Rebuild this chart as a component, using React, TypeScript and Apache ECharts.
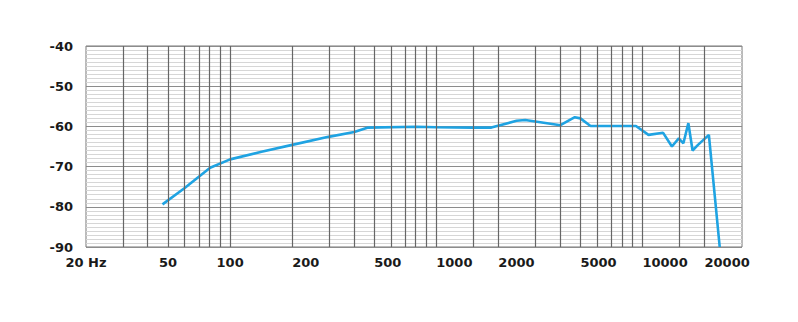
import React, { useEffect, useRef } from "react";
import * as echarts from "echarts";

// Frequency response data (Hz, dB)
const freqs = [47, 60, 80, 100, 142, 200, 300, 400, 467, 800, 1000, 1500, 1850, 2450, 2700, 4000, 4700, 5000, 5600, 9300, 10700, 12600, 13900, 15000, 15800, 16700, 17500, 18600, 21000, 23700];
const levels = [-79.4, -75.4, -70.3, -68.2, -66.3, -64.6, -62.6, -61.4, -60.3, -60.1, -60.2, -60.3, -60.3, -58.6, -58.4, -59.7, -57.7, -58.0, -59.9, -59.9, -62.1, -61.6, -65.0, -63.0, -64.2, -59.2, -66.0, -64.6, -62.1, -90];

// Vertical grid lines (Hz)
const gridFreqs = [30, 40, 50, 60, 70, 80, 90, 100, 200, 300, 400, 500, 600, 700, 800, 900, 1000, 1500, 2000, 3000, 4000, 5000, 6000, 7000, 8000, 9000, 10000, 15000, 20000];

// X tick labels: centred ones and left-aligned ones
const centredTickHz = [20, 50, 100];
const centredTickText = ["20 Hz", "50", "100"];
const leftTickHz = [200, 500, 1000, 2000, 5000, 10000, 20000];
const leftTickText = ["200", "500", "1000", "2000", "5000", "10000", "20000"];

// Y ticks
const yTicks = [-90, -80, -70, -60, -50, -40];

const xMinHz = 20;
const xMaxHz = 30400;

const lg = (v: number) => Math.log10(v);

function labelFor(hzList: number[], texts: string[]) {
  return (value: number) => {
    let best = 0;
    let bd = Infinity;
    hzList.forEach((h, i) => {
      const d = Math.abs(lg(h) - value);
      if (d < bd) {
        bd = d;
        best = i;
      }
    });
    return bd < 0.01 ? texts[best] : "";
  };
}

const labelFont = {
  fontFamily: "DejaVu Sans",
  fontWeight: "bold" as const,
  fontSize: 13,
  color: "#1a1a1a",
};

export default function App() {
  const ref = useRef<HTMLDivElement>(null);
  useEffect(() => {
    if (!ref.current) return;
    const chart = echarts.init(ref.current, undefined, { renderer: "svg" });
    const baseX = {
      type: "value" as const,
      min: lg(xMinHz),
      max: lg(xMaxHz),
      position: "bottom" as const,
      axisLine: { show: false },
      axisTick: { show: false },
      splitLine: { show: false },
    };
    chart.setOption({
      animation: false,
      backgroundColor: "#ffffff",
      grid: {
        left: 86,
        right: 56,
        top: 46,
        bottom: 75,
        show: true,
        borderColor: "#777",
        borderWidth: 1,
        backgroundColor: "transparent",
      },
      xAxis: [
        {
          ...baseX,
          axisLabel: {
            ...labelFont,
            margin: 9,
            align: "left",
            customValues: leftTickHz.map(lg),
            formatter: labelFor(leftTickHz, leftTickText),
          },
        },
        {
          ...baseX,
          axisLabel: {
            ...labelFont,
            margin: 9,
            align: "center",
            customValues: centredTickHz.map(lg),
            formatter: labelFor(centredTickHz, centredTickText),
          },
        },
      ],
      yAxis: {
        type: "value",
        min: yTicks[0],
        max: yTicks[yTicks.length - 1],
        interval: 10,
        axisLine: { show: false },
        axisTick: { show: false },
        axisLabel: { ...labelFont, margin: 13 },
        splitLine: { show: true, lineStyle: { color: "#8c8c8c", width: 1 } },
        minorTick: { show: false, splitNumber: 10 },
        minorSplitLine: { show: true, lineStyle: { color: "#d6d6d6", width: 1 } },
      },
      series: [
        {
          type: "line",
          data: [],
          z: 1,
          silent: true,
          markLine: {
            silent: true,
            symbol: ["none", "none"],
            label: { show: false },
            lineStyle: { color: "#666", width: 1.2, type: "solid" },
            data: gridFreqs.map((f) => ({ xAxis: lg(f) })),
          },
        },
        {
          type: "line",
          z: 3,
          symbol: "none",
          smooth: false,
          lineStyle: { color: "#1fa3e2", width: 2.6 },
          data: freqs.map((f, i) => [lg(f), levels[i]]),
        },
      ],
    });
    return () => chart.dispose();
  }, []);
  return (
    <div
      ref={ref}
      style={{ position: "fixed", left: 0, top: 0, width: 798, height: 322 }}
    />
  );
}
